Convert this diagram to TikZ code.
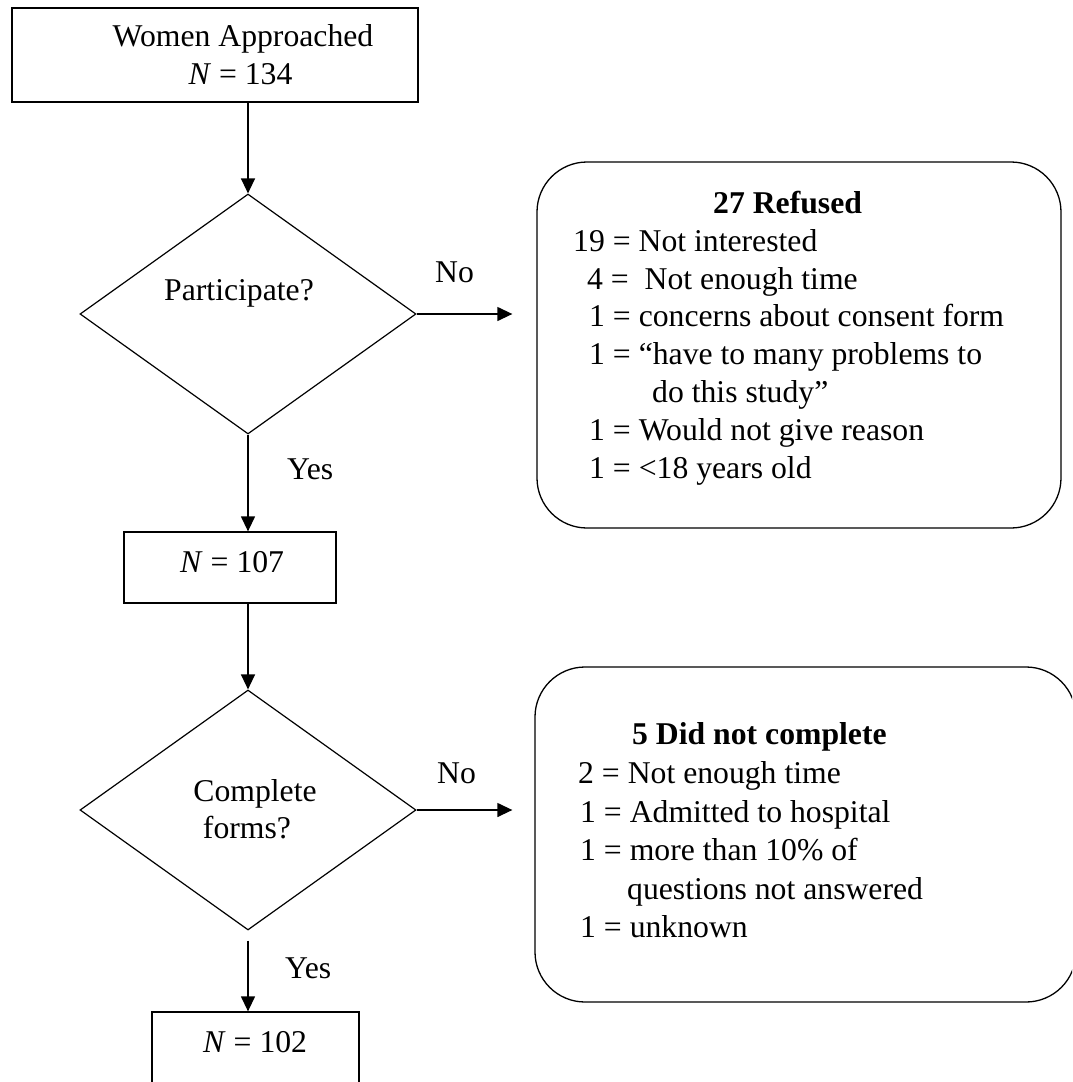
\documentclass[tikz,border=0pt]{standalone}
\usepackage{fontspec}
\setmainfont{Liberation Serif}
\usetikzlibrary{shapes.geometric,arrows.meta,calc}
\newcommand\fsz{\fontsize{31.7}{38}\selectfont}
\tikzset{
  box/.style={draw, line width=1.3pt, rectangle, inner sep=0pt},
  rbox/.style={draw, line width=1.3pt, rectangle, rounded corners=50pt, inner sep=0pt},
  dia/.style={draw, line width=1.2pt, diamond, aspect=1.4, inner sep=0pt, minimum width=336pt, minimum height=240pt},
  txt/.style={inner sep=0pt, font=\fsz},
  arr/.style={line width=1.3pt, -{Triangle[length=15pt,width=14pt]}}
}
\begin{document}
\begin{tikzpicture}[x=1pt,y=1pt]
\useasboundingbox (0,0) rectangle (1072,-1082);
\clip (0,0) rectangle (1072,-1082);
% shapes
\node[box, minimum width=406pt, minimum height=94pt] (top) at (215,-55) {};
\node[dia] (d1) at (248,-314) {};
\node[box, minimum width=212pt, minimum height=71pt] (n107) at (230,-567.5) {};
\node[dia] (d2) at (248,-810) {};
\node[box, minimum width=207pt, minimum height=100pt] (n102) at (255.5,-1062) {};
\node[rbox, minimum width=524pt, minimum height=366pt] (r1) at (799,-345) {};
\node[rbox, minimum width=541pt, minimum height=335pt] (r2) at (805.5,-834.5) {};
% texts
\node[txt, anchor=base] (t1a) at (243,-46) {Women Approached};
\node[txt, anchor=base] (t1b) at (240.5,-84) {\textit{N} = 134};
\node[txt, anchor=base] (tp) at (239,-300) {Participate?};
\node[txt, anchor=base west] (no1) at (435,-282) {No};
\node[txt, anchor=base west] (yes1) at (287,-479) {Yes};
\node[txt, anchor=base west] (t107) at (180,-572) {\textit{N} = 107};
\node[txt, anchor=base] (tc1) at (255,-801) {Complete};
\node[txt, anchor=base] (tc2) at (247,-838) {forms?};
\node[txt, anchor=base west] (no2) at (437,-783) {No};
\node[txt, anchor=base west] (yes2) at (285,-978) {Yes};
\node[txt, anchor=base west] (t102) at (203,-1052) {\textit{N} = 102};
% refused list
\node[txt, anchor=base west, font=\fsz\bfseries] (r1t) at (713,-213) {27 Refused};
\node[txt, anchor=base west] (r1a) at (573,-251) {19 = Not interested};
\node[txt, anchor=base west] (r1b) at (587,-289) {4 =\ \ Not enough time};
\node[txt, anchor=base west] (r1c) at (589,-326) {1 = concerns about consent form};
\node[txt, anchor=base west] (r1d) at (589,-364) {1 = “have to many problems to};
\node[txt, anchor=base west] (r1e) at (652,-402) {do this study”};
\node[txt, anchor=base west] (r1f) at (589,-440) {1 = Would not give reason};
\node[txt, anchor=base west] (r1g) at (589,-478) {1 = <18 years old};
% did not complete list
\node[txt, anchor=base west, font=\fsz\bfseries] (r2t) at (632,-744) {5 Did not complete};
\node[txt, anchor=base west] (r2a) at (578,-783) {2 = Not enough time};
\node[txt, anchor=base west] (r2b) at (580,-822) {1 = Admitted to hospital};
\node[txt, anchor=base west] (r2c) at (580,-860) {1 = more than 10\% of};
\node[txt, anchor=base west] (r2d) at (627,-899) {questions not answered};
\node[txt, anchor=base west] (r2e) at (580,-937) {1 = unknown};
% connectors
\coordinate (a1) at ($(r1.west |- d1.east)+(-24,0)$);
\coordinate (a2) at ($(r2.west |- d2.east)+(-22,0)$);
\coordinate (s2) at ($(d2.south)+(0,-10)$);
\draw[arr] (top.south -| d1.north) -- (d1.north);
\draw[arr] (d1.east) -- (a1);
\draw[arr] (d1.south) -- (n107.north -| d1.south);
\draw[arr] (n107.south -| d2.north) -- (d2.north);
\draw[arr] (d2.east) -- (a2);
\draw[arr] (s2) -- (n102.north -| s2);
\end{tikzpicture}
\end{document}
